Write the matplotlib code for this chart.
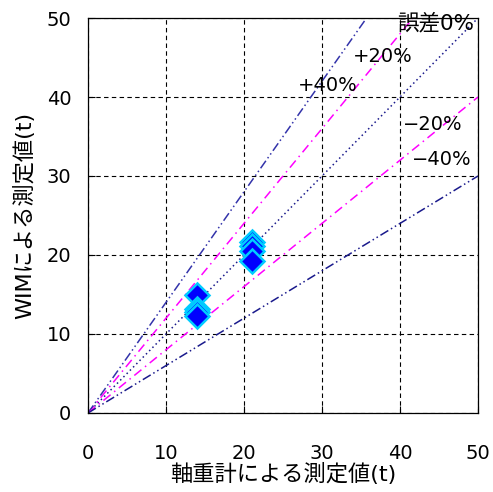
import matplotlib
matplotlib.use("Agg")
import matplotlib.pyplot as plt
import numpy as np

plt.rcParams['font.family'] = ['DejaVu Sans', 'Noto Sans CJK JP']

# measured values (t)
axle_x = [14, 14, 14, 14, 21, 21, 21, 21]
wim_y = [14.9, 13.2, 12.8, 12.3, 21.6, 21.2, 20.5, 19.2]

# reference error lines
ratios = [1.0, 1.2, 1.4, 0.8, 0.6]
line_colors = ['#1a1a8c', '#ff00ff', '#3333aa', '#ff00ff', '#1a1a8c']
line_dashes = [(1, 2), (6, 3, 1, 3), (6, 2, 1, 2, 1, 2), (6, 3, 1, 3), (6, 2, 1, 2, 1, 2)]
labels = ['誤差0%', '+20%', '+40%', '\u221220%', '\u221240%']
label_pos = [(39.6, 49.4), (34.0, 45.1), (26.9, 41.5), (40.4, 36.5), (41.5, 32.1)]
label_sizes = [15.5, 14, 14, 14, 14]

ticks = [0, 10, 20, 30, 40, 50]

fig = plt.figure(figsize=(4.93, 4.92), dpi=100)
ax = fig.add_axes([0.1785, 0.1606, 0.7911, 0.8028])

xs = np.array([0, 50])
for r, c, d in zip(ratios, line_colors, line_dashes):
    ax.plot(xs, xs * r, color=c, linewidth=1.1, dashes=d, zorder=2)

ax.plot(axle_x, wim_y, linestyle='none', marker='D', markersize=12,
        markerfacecolor='#0000ff', markeredgecolor='#00ccff', markeredgewidth=1.8, zorder=3)

for t, (tx, ty), fs in zip(labels, label_pos, label_sizes):
    ax.text(tx, ty, t, fontsize=fs, ha='left', va='center')

ax.set_xlim(0, 50)
ax.set_ylim(0, 50)
ax.set_xticks(ticks)
ax.set_yticks(ticks)
ax.tick_params(direction='in', length=5, labelsize=14)
ax.tick_params(axis='x', pad=22)
ax.tick_params(axis='y', pad=12)
ax.grid(True, color='black', linestyle=(0, (4, 3)), linewidth=0.8)
ax.set_axisbelow(True)
for s in ax.spines.values():
    s.set_linewidth(0.9)

ax.set_xlabel('軸重計による測定値(t)', fontsize=16, labelpad=0)
ax.set_ylabel('WIMによる測定値(t)', fontsize=16, labelpad=8)

fig.savefig('out.png', dpi=100)
